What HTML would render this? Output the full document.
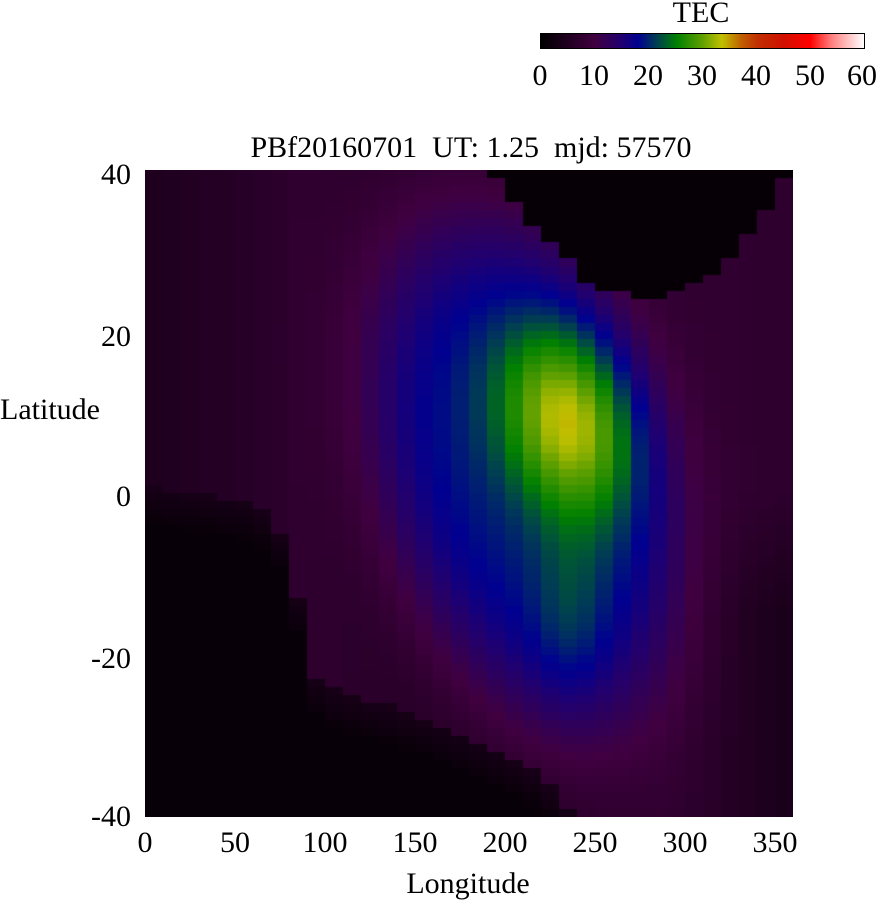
<!DOCTYPE html>
<html><head><meta charset="utf-8"><style>
body{margin:0;background:#fff;width:878px;height:900px;position:relative;overflow:hidden;font-family:"Liberation Serif",serif;color:#000}
.t{position:absolute;font-size:30px;line-height:30px;white-space:nowrap}
.c{transform:translate(-50%,-50%)}
.r{transform:translate(-100%,-50%)}
#cv{position:absolute;left:145px;top:170px}
#cb{position:absolute;left:540px;top:33px;width:323px;height:14px;border:1px solid #000;
background:linear-gradient(to right,#000 0%,#400040 16.7%,#200070 25%,#000090 30%,#004050 36%,#008000 42%,#60a000 50%,#c0c000 56%,#c06000 62%,#c03000 67%,#d01000 75%,#ff0000 83.3%,#ff8080 90%,#fff 100%)}
</style></head><body>
<div class="t c" style="left:701px;top:13px">TEC</div>
<div id="cb"></div>
<div class="t c" style="left:540px;top:76px">0</div>
<div class="t c" style="left:594px;top:76px">10</div>
<div class="t c" style="left:648px;top:76px">20</div>
<div class="t c" style="left:702px;top:76px">30</div>
<div class="t c" style="left:756px;top:76px">40</div>
<div class="t c" style="left:810px;top:76px">50</div>
<div class="t c" style="left:862px;top:76px">60</div>
<div class="t c" style="left:471px;top:148px">PBf20160701&nbsp; UT: 1.25&nbsp; mjd: 57570</div>
<canvas id="cv" width="648" height="647"></canvas>
<div class="t r" style="left:131px;top:175px">40</div>
<div class="t r" style="left:131px;top:337px">20</div>
<div class="t r" style="left:131px;top:497px">0</div>
<div class="t r" style="left:131px;top:659px">-20</div>
<div class="t r" style="left:131px;top:817px">-40</div>
<div class="t c" style="left:50px;top:410px">Latitude</div>
<div class="t c" style="left:145px;top:843px">0</div>
<div class="t c" style="left:235px;top:843px">50</div>
<div class="t c" style="left:325px;top:843px">100</div>
<div class="t c" style="left:415px;top:843px">150</div>
<div class="t c" style="left:505px;top:843px">200</div>
<div class="t c" style="left:595px;top:843px">250</div>
<div class="t c" style="left:685px;top:843px">300</div>
<div class="t c" style="left:775px;top:843px">350</div>
<div class="t c" style="left:468px;top:884px">Longitude</div>
<script>
var stops=[[0,[0,0,0]],[10,[64,0,64]],[15,[32,0,112]],[18,[0,0,144]],[21.5,[0,64,80]],[25,[0,128,0]],[30,[96,160,0]],[33.5,[192,192,0]],[37,[192,96,0]],[40,[192,48,0]],[45,[208,16,0]],[50,[255,0,0]],[54,[255,128,128]],[60,[255,255,255]]];
function col(v){v=Math.max(0,Math.min(60,v));for(var i=1;i<stops.length;i++){if(v<=stops[i][0]){var a=stops[i-1],b=stops[i],f=(v-a[0])/(b[0]-a[0]);return 'rgb('+[0,1,2].map(function(k){return Math.round(a[1][k]+f*(b[1][k]-a[1][k]))}).join(',')+')';}}return '#fff';}
function interp(pts,x){if(x<=pts[0][0])return pts[0][1];for(var i=1;i<pts.length;i++){if(x<=pts[i][0]){var f=(x-pts[i-1][0])/(pts[i][0]-pts[i-1][0]);return pts[i-1][1]+f*(pts[i][1]-pts[i-1][1]);}}return pts[pts.length-1][1];}
var top_=[[185,45],[190,40],[200,37],[215,33],[230,30],[240,27],[255,25],[275,24],[300,25],[320,28],[340,33],[352,37],[360,41]];
var bot=[[0,1],[60,-1],[80,-6],[92,-22],[100,-24],[130,-26],[160,-28],[180,-30],[200,-32],[220,-35],[232,-38],[240,-41]];
function g(x,y,cx,cy,sx,sy,a){var dx=(x-cx)/sx,dy=(y-cy)/sy;return a*Math.exp(-0.5*(dx*dx+dy*dy));}
function sg(x,y,cx,cy,sx,sy,a){var dx=(x-cx)/sx,dy=(y-cy)/sy,r=dx*dx+dy*dy;return a*Math.exp(-0.5*r*r);}
function clamp(x){return Math.max(0,Math.min(1,x));}
function val(lon,lat){
 var v=6.5+1.0*Math.sin(lon/40);
 if(lon<80)v=4.5+lon*0.03;
 var cx=212-0.8*lat;
 v+=sg(lon,lat,cx,3,70,28,13.5);
 var pc=234-0.6*(lat-9);
 v+=g(lon,lat,pc,9,25,8,14.5);
 v+=g(lon,lat,236,-15,14,8,3);
 v-=clamp((lon-290)/60)*clamp(-lat/15)*3;
 if(lon>=185&&lat>interp(top_,lon))v=1;
 var b=interp(bot,lon);
 if(lon<240&&lat<b){v=Math.min(v,1.2+Math.max(0,(lat-b+5))*0.5);}
 return v;}
var c=document.getElementById('cv').getContext('2d');
var cw=18,ch=8.09;
for(var i=0;i<36;i++)for(var j=0;j<80;j++){
 var lon=i*10+5,lat=40-j-0.5;
 c.fillStyle=col(val(lon,lat));
 c.fillRect(i*cw,Math.floor(j*ch),cw,Math.ceil(ch)+1);}
</script>
</body></html>
